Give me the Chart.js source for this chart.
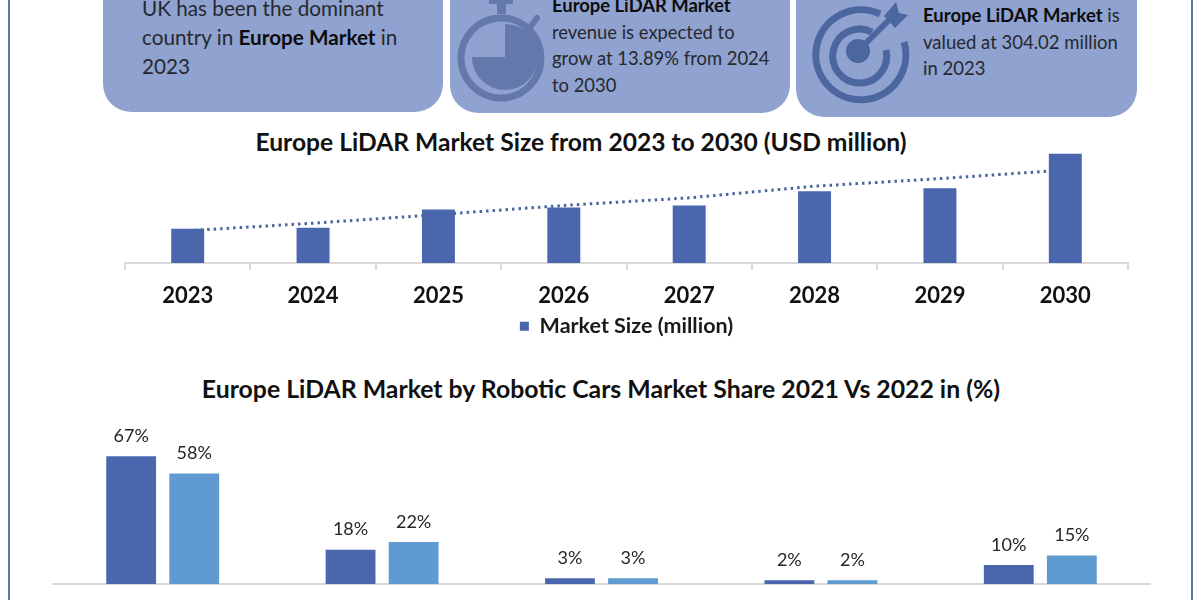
<!DOCTYPE html>
<html>
<head>
<meta charset="utf-8">
<title>Europe LiDAR Market</title>
<script src="https://cdn.jsdelivr.net/npm/chart.js@4"></script>
<style>
  html, body { margin: 0; padding: 0; background: #fff; }
  body { position: relative; width: 1200px; height: 600px; overflow: hidden; font-family: Lato, sans-serif; color: #1a1a1a; }
  .edge { position: absolute; top: 0; width: 2px; height: 600px; background: #5a77ad; }
  .panel { position: absolute; background: #8fa2d0; border-radius: 28px; }
  .line { position: absolute; white-space: nowrap; color: #26282e; transform: translateY(-50%); }
  .line b { color: #0d0d0d; }
  .heading { position: absolute; white-space: nowrap; font-weight: bold; color: #111; transform: translate(-50%, -50%); }
  canvas { position: absolute; left: 0; }
  svg { position: absolute; left: 0; top: 0; }
</style>
</head>
<body>
<div class="edge" style="left:8px"></div>
<div class="edge" style="left:1191px"></div>

<div class="panel" style="left:103px;top:-40px;width:340px;height:152px"></div>
<div class="panel" style="left:450px;top:-40px;width:340px;height:153px"></div>
<div class="panel" style="left:796px;top:-40px;width:341px;height:157px"></div>

<svg width="1200" height="130">
  <!-- stopwatch -->
  <rect x="489" y="-4" width="24" height="8" fill="#6478ab"/>
  <rect x="497" y="2" width="9" height="12" fill="#6478ab"/>
  <line x1="531" y1="26" x2="537" y2="18" stroke="#6478ab" stroke-width="6" stroke-linecap="round"/>
  <circle cx="501" cy="58" r="40" fill="none" stroke="#6478ab" stroke-width="7"/>
  <path d="M505 24 A33 33 0 1 1 472 57 L505 57 Z" fill="#6478ab"/>
  <!-- target -->
  <path d="M880 14 A45 45 0 1 0 904 42" fill="none" stroke="#4c679f" stroke-width="7"/>
  <path d="M872 32 A27 27 0 1 0 886 50" fill="none" stroke="#4c679f" stroke-width="7"/>
  <circle cx="858" cy="51" r="12" fill="#4c679f"/>
  <line x1="858" y1="51" x2="893" y2="16" stroke="#4c679f" stroke-width="6"/>
  <path d="M884 16 L896 2 L899 13 L908 15 L895 28 Z" fill="#4c679f"/>
</svg>

<div class="line" style="left:142px;top:8px;font-size:20.7px">UK has been the dominant</div>
<div class="line" style="left:142px;top:37px;font-size:20.7px">country in <b>Europe Market</b> in</div>
<div class="line" style="left:142px;top:66px;font-size:20.7px">2023</div>

<div class="line" style="left:552px;top:5px;font-size:18.4px"><b>Europe LiDAR Market</b></div>
<div class="line" style="left:552px;top:32px;font-size:18.4px">revenue is expected to</div>
<div class="line" style="left:552px;top:58px;font-size:18.4px">grow at 13.89% from 2024</div>
<div class="line" style="left:552px;top:85px;font-size:18.4px">to 2030</div>

<div class="line" style="left:923px;top:15px;font-size:18.5px"><b>Europe LiDAR Market</b> is</div>
<div class="line" style="left:923px;top:42px;font-size:18.5px">valued at 304.02 million</div>
<div class="line" style="left:923px;top:68px;font-size:18.5px">in 2023</div>

<div class="heading" style="left:581px;top:141px;font-size:24.6px">Europe LiDAR Market Size from 2023 to 2030 (USD million)</div>
<div class="heading" style="left:601px;top:388px;font-size:24.8px">Europe LiDAR Market by Robotic Cars Market Share 2021 Vs 2022 in (%)</div>

<canvas id="sizeChart" width="1200" height="213" style="top:140px"></canvas>
<canvas id="shareChart" width="1200" height="190" style="top:410px"></canvas>

<script>
// Market size chart
const years = ["2023", "2024", "2025", "2026", "2027", "2028", "2029", "2030"];
const marketSize = [304, 313, 474, 492, 510, 635, 662, 966];
const marketTrend = [286, 353, 429, 510, 577, 680, 747, 823];

// Share chart, category names are cut off in the picture
const shareCategories = ["A", "B", "C", "D", "E"];
const share2021 = [67, 18, 3, 2, 10];
const share2022 = [58, 22, 3, 2, 15];

const fontName = "Lato, sans-serif";

// Percent labels above the bars
const percentLabels = {
  id: "percentLabels",
  afterDatasetsDraw(chart) {
    const ctx = chart.ctx;
    ctx.save();
    ctx.font = "18px " + fontName;
    ctx.fillStyle = "#262626";
    ctx.textAlign = "center";
    ctx.textBaseline = "bottom";
    chart.data.datasets.forEach((ds, i) => {
      chart.getDatasetMeta(i).data.forEach((bar, j) => {
        ctx.fillText(ds.data[j] + "%", bar.x, bar.y - 11);
      });
    });
    ctx.restore();
  },
};

new Chart(document.getElementById("sizeChart").getContext("2d"), {
  data: {
    labels: years,
    datasets: [
      {
        type: "bar",
        label: "Market Size (million)",
        data: marketSize,
        backgroundColor: "#4a66ac",
        barPercentage: 0.263,
        categoryPercentage: 1,
        order: 1,
      },
      {
        type: "line",
        label: "Trend",
        data: marketTrend,
        borderColor: "#4a66a0",
        borderWidth: 3,
        borderDash: [2.5, 4],
        pointRadius: 0,
        tension: 0,
        order: 2,
      },
    ],
  },
  options: {
    responsive: false,
    animation: false,
    layout: { padding: { left: 125, right: 72, top: 10, bottom: 6 } },
    plugins: {
      tooltip: { enabled: false },
      legend: {
        position: "bottom",
        labels: {
          filter: (item) => item.text !== "Trend",
          usePointStyle: true,
          pointStyle: "rect",
          boxWidth: 9,
          boxHeight: 9,
          padding: 0,
          color: "#1a1a1a",
          font: { family: fontName, size: 21.5, weight: "bold" },
        },
      },
    },
    scales: {
      x: {
        // legend sits tight under the tick labels
        afterFit: (scale) => { scale.height -= 7; },
        grid: { drawOnChartArea: false, color: "#d9d9d9", lineWidth: 2, tickLength: 7 },
        border: { color: "#d9d9d9", width: 2 },
        ticks: {
          color: "#111",
          padding: 13,
          maxRotation: 0,
          font: { family: fontName, size: 22, weight: "bold" },
        },
      },
      y: { display: false, min: 0, max: 1000 },
    },
  },
});

new Chart(document.getElementById("shareChart").getContext("2d"), {
  type: "bar",
  data: {
    labels: shareCategories,
    datasets: [
      { label: "2021", data: share2021, backgroundColor: "#4a66ac" },
      { label: "2022", data: share2022, backgroundColor: "#5f9bd0" },
    ],
  },
  options: {
    responsive: false,
    animation: false,
    categoryPercentage: 0.575,
    barPercentage: 0.79,
    layout: { padding: { left: 53, right: 50, top: 10, bottom: 8 } },
    plugins: { legend: { display: false }, tooltip: { enabled: false } },
    scales: {
      x: {
        grid: { display: false },
        border: { color: "#d9d9d9", width: 2 },
        ticks: { display: false },
      },
      y: { display: false, min: 0, max: 86 },
    },
  },
  plugins: [percentLabels],
});
</script>
</body>
</html>
